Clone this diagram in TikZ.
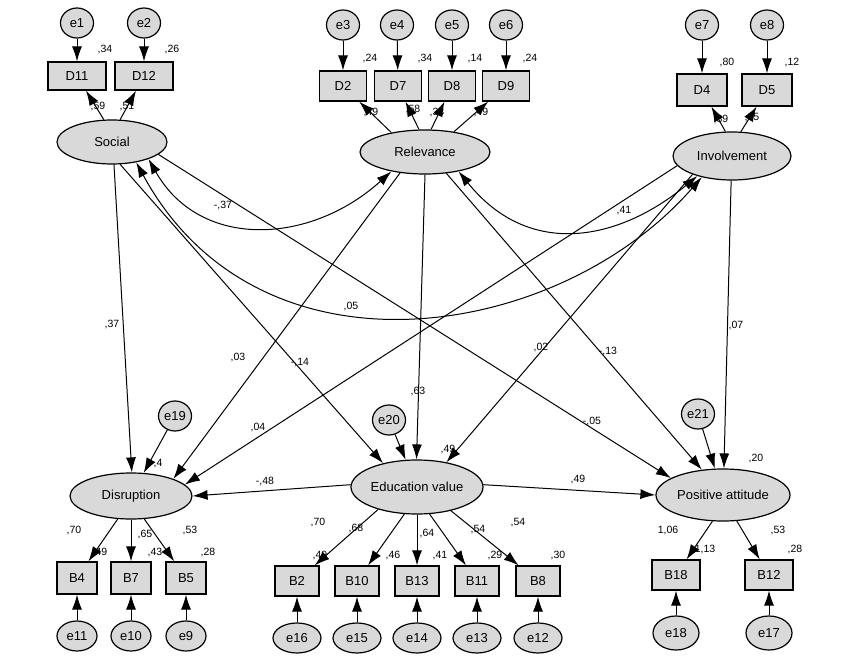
\documentclass[tikz,border=0pt]{standalone}
\usepackage{fontspec}
\setmainfont{Liberation Sans}
\usetikzlibrary{shapes.geometric,arrows.meta}
\begin{document}
\begin{tikzpicture}[x=1pt,y=-1pt,
 every node/.style={font=\fontsize{13}{14}\selectfont},
 lat/.style={ellipse,draw,line width=1.2pt,fill=gray!30,inner sep=0pt},
 box/.style={rectangle,draw,line width=1.2pt,fill=gray!30,minimum width=44pt,minimum height=30pt,inner sep=0pt},
 err/.style={ellipse,draw,line width=1.2pt,fill=gray!30,minimum width=33pt,minimum height=30pt,inner sep=0pt},
 lb/.style={font=\fontsize{10.5}{11}\selectfont,inner sep=0pt},
 ar/.style={-{Latex[length=15pt,width=10pt]},line width=1pt},
 cv/.style={{Latex[length=15pt,width=10pt]}-{Latex[length=15pt,width=10pt]},line width=1pt}]
\useasboundingbox (0,0) rectangle (841,661);
% latent
\node[lat,minimum width=110pt,minimum height=44pt] (Soc) at (112,142) {Social};
\node[lat,minimum width=130pt,minimum height=44pt] (Rel) at (425,152) {Relevance};
\node[lat,minimum width=118pt,minimum height=48pt] (Inv) at (732,156) {Involvement};
\node[lat,minimum width=122pt,minimum height=46pt] (Dis) at (131,496) {Disruption};
\node[lat,minimum width=132pt,minimum height=54pt] (Edu) at (417,487) {Education value};
\node[lat,minimum width=134pt,minimum height=52pt] (Pos) at (723,495) {Positive attitude};
% top boxes
\node[box,minimum width=58pt,minimum height=28pt] (D11) at (77,76) {D11};
\node[box,minimum width=58pt,minimum height=28pt] (D12) at (144,76) {D12};
\node[box,minimum width=47pt] (D2) at (343,86) {D2};
\node[box,minimum width=47pt] (D7) at (398,86) {D7};
\node[box,minimum width=47pt] (D8) at (452,86) {D8};
\node[box,minimum width=47pt] (D9) at (506,86) {D9};
\node[box,minimum width=50pt,minimum height=32pt] (D4) at (702,90) {D4};
\node[box,minimum width=50pt,minimum height=32pt] (D5) at (767,90) {D5};
\foreach \n/\x/\t in {e1/77/D11,e2/144/D12}{\node[err] (\n) at (\x,23) {\n}; \draw[ar] (\n) -- (\t);}
\foreach \n/\x/\t in {e3/343/D2,e4/397/D7,e5/452/D8,e6/506/D9,e7/702/D4,e8/767/D5}{\node[err] (\n) at (\x,25) {\n}; \draw[ar] (\n) -- (\t);}
% bottom boxes
\foreach \n/\x in {B4/77,B7/131,B5/186}{\node[box,minimum width=40pt,minimum height=32pt] (\n) at (\x,578) {\n};}
\foreach \n/\x in {B2/297,B10/357,B13/417,B11/477,B8/538}{\node[box,minimum width=44pt,minimum height=30pt] (\n) at (\x,581) {\n};}
\foreach \n/\x in {B18/676,B12/769}{\node[box,minimum width=48pt,minimum height=30pt] (\n) at (\x,575) {\n};}
\foreach \n/\x/\t in {e11/77/B4,e10/131/B7,e9/186/B5}{\node[err,minimum width=40pt] (\n) at (\x,636) {\n}; \draw[ar] (\n) -- (\t);}
\foreach \n/\x/\t in {e16/297/B2,e15/357/B10,e14/417/B13,e13/477/B11,e12/538/B8}{\node[err,minimum width=48pt] (\n) at (\x,638) {\n}; \draw[ar] (\n) -- (\t);}
\foreach \n/\x/\t in {e18/676/B18,e17/769/B12}{\node[err,minimum width=46pt,minimum height=34pt] (\n) at (\x,633) {\n}; \draw[ar] (\n) -- (\t);}
\node[err] (e19) at (175,416) {e19};
\node[err] (e20) at (389,420) {e20};
\node[err] (e21) at (698,414) {e21};
\draw[ar] (e19) -- (Dis);
\draw[ar] (e20) -- (Edu);
\draw[ar] (e21) -- (Pos);
% loadings
\draw[ar] (Soc.110) -- (D11);
\draw[ar] (Soc.70) -- (D12);
\draw[ar] (Rel.150) -- (D2);
\draw[ar] (Rel.105) -- (D7);
\draw[ar] (Rel.75) -- (D8);
\draw[ar] (Rel.35) -- (D9);
\draw[ar] (Inv.105) -- (D4);
\draw[ar] (Inv.70) -- (D5);
\draw[ar] (Dis.-120) -- (B4);
\draw[ar] (Dis) -- (B7);
\draw[ar] (Dis.-60) -- (B5);
\draw[ar] (Edu.-150) -- (B2);
\draw[ar] (Edu.-115) -- (B10);
\draw[ar] (Edu) -- (B13);
\draw[ar] (Edu.-65) -- (B11);
\draw[ar] (Edu.-35) -- (B8);
\draw[ar] (Pos.-112) -- (B18);
\draw[ar] (Pos.-62) -- (B12);
% structural
\draw[ar] (Soc.-85) -- (Dis.88);
\draw[ar] (Soc.-70) -- (Edu.145);
\draw[ar] (Soc.-15) -- (Pos.162);
\draw[ar] (Rel.-140) -- (Dis.22);
\draw[ar] (Rel.-90) -- (Edu.91);
\draw[ar] (Rel.-45) -- (Pos.130);
\draw[ar] (Inv.-170) -- (Dis.12);
\draw[ar] (Inv.-155) -- (Edu.40);
\draw[ar] (Inv.-92) -- (Pos.88);
\draw[ar] (Edu.178) -- (Dis.0);
\draw[ar] (Edu.2) -- (Pos.180);
% covariances
\draw[cv] (Soc.-25) .. controls (200,250) and (310,245) .. (Rel.-150);
\draw[cv] (Rel.-30) .. controls (530,260) and (620,240) .. (Inv.-150);
\draw[cv] (Soc.-40) .. controls (260,390) and (560,340) .. (Inv.-145);
% labels
\foreach \t/\x/\y in {{,34}/105/50,{,26}/172/50,{,24}/370/59,{,34}/425/59,{,14}/475/59,{,24}/530/59,{,80}/727/63,{,12}/792/63,
 {,59}/98/107,{,51}/127/107,{,49}/371/113,{,58}/413/110,{,38}/437/113,{,49}/481/113,{,89}/721/120,{,35}/752/118,
 {-,37}/223/206,{,41}/624/211,{,05}/351/307,{,37}/112/325,{,03}/238/358,{-,14}/300/363,{,63}/418/392,{,02}/541/348,{-,13}/608/352,{,07}/736/326,
 {,04}/258/428,{-,05}/592/422,{-,48}/265/482,{,49}/578/480,{,49}/448/450,{,20}/756/459,{,4}/158/464,
 {,70}/74/531,{,49}/100/553,{,65}/145/535,{,43}/155/553,{,53}/190/531,{,28}/208/553,
 {,70}/318/523,{,49}/320/556,{,68}/356/529,{,46}/393/556,{,64}/427/534,{,41}/440/556,{,54}/478/530,{,29}/495/556,{,54}/518/523,{,30}/558/556,
 {1,06}/668/531,{1,13}/705/550,{,53}/778/531,{,28}/795/550}{\node[lb] at (\x,\y) {\t};}
\end{tikzpicture}
\end{document}
